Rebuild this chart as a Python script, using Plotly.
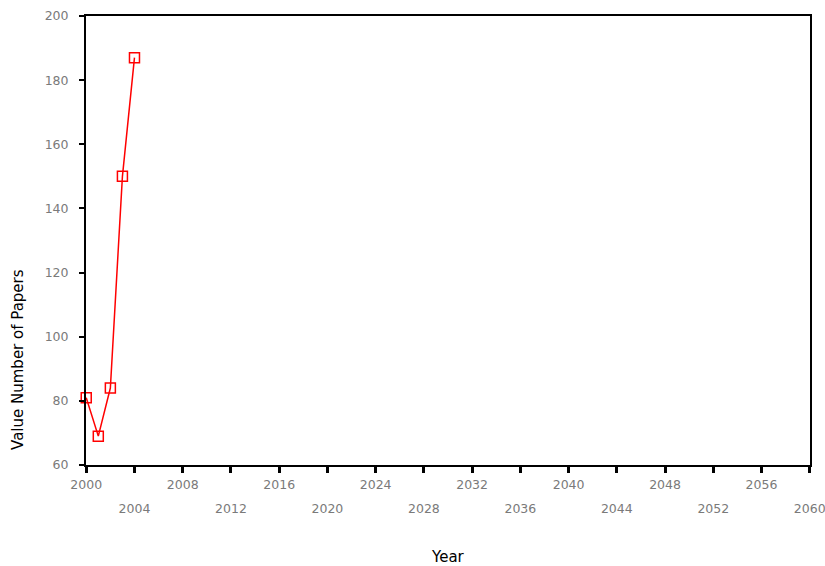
import plotly.graph_objects as go

# Annual paper counts
years = [2000, 2001, 2002, 2003, 2004]
papers = [81, 69, 84, 150, 187]

# Axis ticks
x_ticks = list(range(2000, 2061, 4))
y_ticks = [60, 80, 100, 120, 140, 160, 180, 200]

# Year labels are staggered on two rows: upper row on the main axis,
# lower row on an overlaid axis pushed further down
x_upper = [str(v) if i % 2 == 0 else "" for i, v in enumerate(x_ticks)]
x_lower_vals = [v for i, v in enumerate(x_ticks) if i % 2 == 1]
x_lower_text = [str(v) for v in x_lower_vals]

x_range = [1999.98, 2060.02]
label_font = dict(family="DejaVu Sans", size=12.5, color="#7a7a7a")

fig = go.Figure()
fig.add_trace(go.Scatter(
    x=years, y=papers, mode="lines+markers",
    line=dict(color="#ff0000", width=1.5),
    marker=dict(symbol="square-open", size=10, color="#ff0000",
                line=dict(color="#ff0000", width=1.5)),
    cliponaxis=False, showlegend=False,
))
# invisible carrier so the lower label row is laid out
fig.add_trace(go.Scatter(
    x=[x_range[0]], y=[y_ticks[0]], xaxis="x2", mode="markers",
    marker=dict(opacity=0), hoverinfo="skip", showlegend=False,
))

fig.update_layout(
    width=825, height=566,
    margin=dict(l=86, r=15, t=16, b=101),
    paper_bgcolor="white", plot_bgcolor="white",
    xaxis=dict(
        range=x_range, tickvals=x_ticks, ticktext=x_upper,
        showgrid=False, zeroline=False,
        showline=True, linecolor="black", linewidth=2, mirror=True,
        ticks="outside", ticklen=6, tickwidth=3, tickcolor="black",
        tickfont=label_font, ticklabelstandoff=1,
        ticklabeloverflow="allow", automargin=False,
    ),
    xaxis2=dict(
        range=x_range, tickvals=x_lower_vals, ticktext=x_lower_text,
        overlaying="x", side="bottom", anchor="y",
        showgrid=False, zeroline=False, showline=False,
        ticks="", tickfont=label_font, ticklabelstandoff=34,
        ticklabeloverflow="allow", automargin=False,
    ),
    yaxis=dict(
        range=[60, 200], tickvals=y_ticks,
        showgrid=False, zeroline=False,
        showline=True, linecolor="black", linewidth=2, mirror=True,
        ticks="outside", ticklen=5, tickwidth=2, tickcolor="black",
        tickfont=label_font, ticklabelstandoff=8, automargin=False,
    ),
    annotations=[
        dict(text="Value Number of Papers", textangle=-90,
             xref="paper", yref="paper", x=0, y=0.234,
             xanchor="center", yanchor="middle", xshift=-68,
             showarrow=False,
             font=dict(family="DejaVu Sans", size=15, color="black")),
        dict(text="Year",
             xref="paper", yref="paper", x=0.5, y=0,
             xanchor="center", yanchor="middle", yshift=-92,
             showarrow=False,
             font=dict(family="DejaVu Sans", size=15, color="black")),
    ],
)

fig.write_html("out.html")
